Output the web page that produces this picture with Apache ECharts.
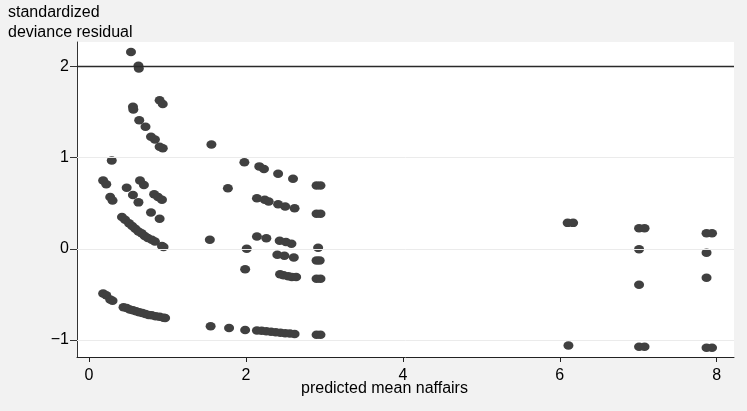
<!DOCTYPE html>
<html>
<head>
<meta charset="utf-8">
<script src="https://cdn.jsdelivr.net/npm/echarts@6/dist/echarts.min.js"></script>
<style>
  html, body { margin: 0; padding: 0; background: #f2f2f2; }
  #chart { width: 747px; height: 411px; }
</style>
</head>
<body>
<div id="chart"></div>
<script>
// predicted mean vs standardized deviance residual
const lowPoints = [
  [0.535, 2.16], [0.63, 2.01], [0.635, 1.98],
  [0.90, 1.63], [0.94, 1.59], [0.56, 1.56], [0.565, 1.53],
  [0.64, 1.41], [0.72, 1.34], [0.79, 1.23], [0.84, 1.20], [0.90, 1.12], [0.94, 1.105],
  [0.29, 0.97],
  [0.18, 0.75], [0.22, 0.71], [0.48, 0.67], [0.65, 0.75], [0.70, 0.70],
  [0.27, 0.57], [0.30, 0.53], [0.56, 0.59], [0.63, 0.51],
  [0.83, 0.60], [0.88, 0.57], [0.93, 0.54],
  [0.79, 0.40], [0.90, 0.33],
  [0.42, 0.35], [0.46, 0.32], [0.51, 0.28], [0.55, 0.25], [0.59, 0.22], [0.63, 0.19],
  [0.67, 0.17], [0.71, 0.14], [0.75, 0.12], [0.80, 0.10], [0.84, 0.08],
  [0.93, 0.03], [0.95, 0.02],
  [0.18, -0.49], [0.22, -0.51], [0.27, -0.555], [0.30, -0.57],
  [0.44, -0.64], [0.48, -0.65], [0.52, -0.665], [0.56, -0.675], [0.60, -0.685],
  [0.64, -0.695], [0.68, -0.705], [0.72, -0.715], [0.76, -0.725], [0.80, -0.73],
  [0.85, -0.74], [0.90, -0.745], [0.95, -0.755], [0.97, -0.76]
];
const midPoints = [
  [1.56, 1.145], [1.98, 0.95], [2.17, 0.905], [2.23, 0.875], [2.41, 0.825], [2.60, 0.77],
  [1.77, 0.665],
  [2.14, 0.555], [2.24, 0.54], [2.29, 0.52], [2.41, 0.49], [2.50, 0.465], [2.62, 0.445],
  [1.54, 0.10], [2.14, 0.135], [2.26, 0.115], [2.43, 0.09], [2.51, 0.075], [2.58, 0.055],
  [2.01, 0.0],
  [2.40, -0.065], [2.49, -0.075], [2.61, -0.095],
  [1.99, -0.225],
  [2.435, -0.28], [2.48, -0.29], [2.54, -0.30], [2.585, -0.31], [2.64, -0.31],
  [2.90, 0.696], [2.95, 0.696], [2.90, 0.385], [2.95, 0.385], [2.92, 0.012],
  [2.90, -0.127], [2.94, -0.127], [2.90, -0.328], [2.95, -0.328],
  [2.90, -0.943], [2.95, -0.943],
  [1.55, -0.85], [1.785, -0.87], [1.99, -0.89],
  [2.14, -0.895], [2.20, -0.90], [2.26, -0.905], [2.32, -0.91], [2.38, -0.915],
  [2.44, -0.92], [2.50, -0.925], [2.56, -0.93], [2.62, -0.935]
];
const highPoints = [
  [6.10, 0.285], [6.17, 0.285], [6.11, -1.06],
  [7.01, 0.225], [7.08, 0.225], [7.01, -0.005], [7.01, -0.395], [7.01, -1.075], [7.08, -1.075],
  [7.87, 0.17], [7.94, 0.17], [7.87, -0.043], [7.87, -0.317], [7.87, -1.085], [7.94, -1.085]
];
const xTicks = [0, 2, 4, 6, 8];
const yTicks = [-1, 0, 1, 2];
const refLine = 2;

const FONT = 'Liberation Sans';
const chart = echarts.init(document.getElementById('chart'));

chart.setOption({
  backgroundColor: '#f2f2f2',
  animation: false,
  textStyle: { fontFamily: FONT },
  title: {
    text: 'standardized\ndeviance residual',
    left: 8,
    top: 3,
    padding: 0,
    textStyle: { fontFamily: FONT, fontSize: 16, fontWeight: 'normal', color: '#000', lineHeight: 20 }
  },
  // x axis title, sits just under the tick labels like in the original
  graphic: [{
    type: 'text',
    left: 301,
    top: 381,
    style: { text: 'predicted mean naffairs', font: '16px "Liberation Sans"', fill: '#000' }
  }],
  grid: {
    left: 77, right: 13, top: 42, bottom: 54,
    show: true, backgroundColor: '#ffffff', borderWidth: 0
  },
  xAxis: {
    type: 'value',
    min: -0.153, max: 8.22,
    axisLine: { onZero: false, lineStyle: { color: '#222', width: 1 } },
    axisTick: { customValues: xTicks, length: 5, lineStyle: { color: '#222' } },
    axisLabel: { customValues: xTicks, margin: 11, fontSize: 16, color: '#000', fontFamily: FONT },
    splitLine: { show: false }
  },
  yAxis: {
    type: 'value',
    min: -1.187, max: 2.27,
    axisLine: { show: true, onZero: false, lineStyle: { color: '#333', width: 1 } },
    axisTick: { show: true, customValues: yTicks, length: 7, lineStyle: { color: '#333' } },
    axisLabel: {
      customValues: yTicks, margin: 8, fontSize: 16, color: '#000', fontFamily: FONT,
      formatter: v => String(v).replace('-', '\u2212')
    },
    splitLine: { show: false }
  },
  series: [
    {
      // grid lines and reference line
      type: 'line',
      data: [],
      z: 1,
      silent: true,
      markLine: {
        silent: true,
        symbol: 'none',
        label: { show: false },
        data: yTicks.filter(v => v !== refLine).map(v => ({ yAxis: v, lineStyle: { color: '#ebebeb', width: 1, type: 'solid' } }))
          .concat([{ yAxis: refLine, lineStyle: { color: '#2a2a2a', width: 1.4, type: 'solid' } }])
      }
    },
    {
      type: 'scatter',
      z: 3,
      data: lowPoints.concat(midPoints, highPoints),
      symbol: 'circle',
      symbolSize: [10, 8.5],
      itemStyle: { color: '#404040', opacity: 1 }
    }
  ]
});
</script>
</body>
</html>
